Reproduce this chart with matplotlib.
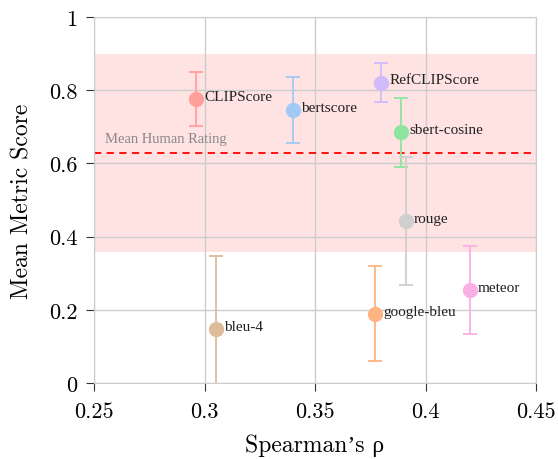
import matplotlib.pyplot as plt

metrics = ['CLIPScore', 'bertscore', 'RefCLIPScore', 'sbert-cosine', 'rouge',
           'bleu-4', 'google-bleu', 'meteor']
spearman = [0.296, 0.340, 0.380, 0.389, 0.391, 0.305, 0.377, 0.420]
mean_score = [0.776, 0.745, 0.821, 0.685, 0.442, 0.147, 0.189, 0.254]
score_err = [0.075, 0.090, 0.053, 0.094, 0.175, 0.200, 0.130, 0.120]
colors = ['#ff9f9b', '#a1c9f4', '#d0bbff', '#8de5a1', '#cfcfcf',
          '#debb9b', '#ffb482', '#fab0e4']

human_mean = 0.628
human_band = 0.270

plt.rcParams['font.family'] = 'serif'
plt.rcParams['font.serif'] = ['cmr10']
plt.rcParams['axes.formatter.use_mathtext'] = True

fig = plt.figure(figsize=(5.58, 4.60), dpi=100)
ax = fig.add_axes([0.1685, 0.1652, 0.7921, 0.7957])

ax.axhspan(human_mean - human_band, human_mean + human_band,
           color='#ffe3e3', zorder=0, lw=0)
ax.axhline(human_mean, color='red', ls='--', lw=1.3, dashes=(4, 3), zorder=1)
ax.text(0.255, human_mean + 0.022, 'Mean Human Rating', color='#888888',
        fontsize=10.5, family='Liberation Serif', va='bottom')

for name, x, y, e, c in zip(metrics, spearman, mean_score, score_err, colors):
    ax.errorbar(x, y, yerr=e, fmt='o', color=c, ecolor=c, markersize=10,
                capsize=5, elinewidth=1.3, capthick=1.3, zorder=3)
    ax.annotate(name, (x, y), xytext=(6, 2), textcoords='offset points',
                fontsize=11, family='Liberation Serif', color='#222222',
                va='center', ha='left', zorder=4)

ax.set_xlim(0.25, 0.45)
ax.set_ylim(0, 1)
ax.set_xticks([0.25, 0.3, 0.35, 0.4, 0.45])
ax.set_xticklabels(['0.25', '0.3', '0.35', '0.4', '0.45'])
ax.set_yticks([0, 0.2, 0.4, 0.6, 0.8, 1])
ax.set_yticklabels(['0', '0.2', '0.4', '0.6', '0.8', '1'])
ax.grid(True, color='#cccccc', lw=1, zorder=0)
ax.set_axisbelow(True)
for s in ax.spines.values():
    s.set_color('#cccccc')
ax.tick_params(labelsize=16, direction='out', length=6, color='#333333')
ax.tick_params(axis='x', pad=7)
ax.tick_params(axis='y', pad=6)

ax.set_xlabel("Spearman’s ρ", fontsize=17, family=['cmr10', 'Liberation Serif'],
              labelpad=9)
ax.set_ylabel('Mean Metric Score', fontsize=17, labelpad=11)

fig.savefig('out.png', dpi=100)
